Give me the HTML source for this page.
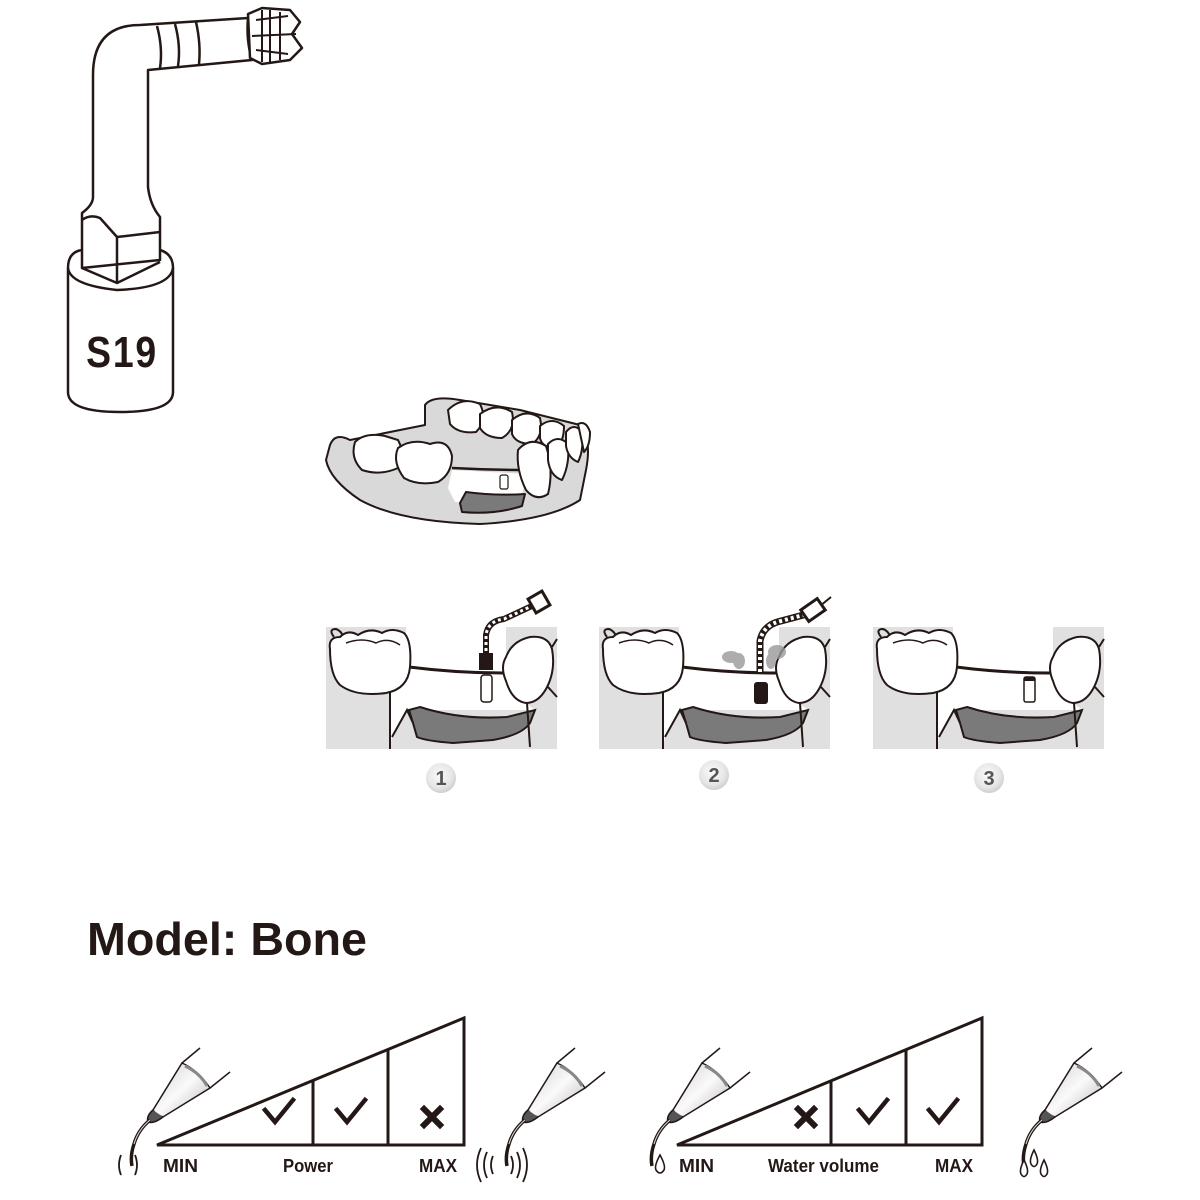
<!DOCTYPE html>
<html><head><meta charset="utf-8"><style>
html,body{margin:0;padding:0;background:#fff;}
svg{display:block;}
.lbl{font-family:"Liberation Sans",sans-serif;font-weight:bold;fill:#231815;}
</style></head><body>
<svg width="1200" height="1200" viewBox="0 0 1200 1200" xmlns="http://www.w3.org/2000/svg">
<defs>
<radialGradient id="nb" cx="0.45" cy="0.4" r="0.6">
<stop offset="0" stop-color="#fbfbfb"/><stop offset="0.7" stop-color="#e6e6e6"/><stop offset="1" stop-color="#cfcfcf"/>
</radialGradient>
<linearGradient id="cone" x1="0" y1="0" x2="1" y2="1">
<stop offset="0" stop-color="#cfcfcf"/><stop offset="0.5" stop-color="#fafafa"/><stop offset="1" stop-color="#b5b5b5"/>
</linearGradient>
<g id="panelbase">
<rect x="0" y="0" width="231" height="122" fill="#e0e0e0"/>
<polygon points="80,0 180,0 180,46 80,40" fill="#fff"/>
<polygon points="64,45 83,40 177,46 200,76 209,83 87,83 81,83 66,110 64,122" fill="#fff"/>
<path d="M83,83 L94,80 Q134,93 181,90 L209,83 L204,96 Q196,108 167,113 L127,116 Q100,114 91,110 L87,96 Z" fill="#7a7a7a" stroke="#231815" stroke-width="2"/>
<path d="M64,64 L64,122 M66,110 L81,83 L87,96" fill="none" stroke="#231815" stroke-width="2"/>
<path d="M83,40 Q130,46 177,46" fill="none" stroke="#231815" stroke-width="3"/>
<path d="M8,10 Q2,2 10,2 Q16,4 18,12" fill="none" stroke="#231815" stroke-width="2"/>
<path d="M4,22 Q2,10 14,10 Q22,2 32,8 Q44,0 56,6 Q66,0 78,6 Q86,14 84,40 Q82,62 60,66 Q30,70 14,58 Q4,48 4,22 Z" fill="#fff" stroke="#231815" stroke-width="2"/>
<path d="M20,16 Q36,10 50,16 Q62,10 74,18" fill="none" stroke="#231815" stroke-width="1.5"/>
<path d="M180,30 Q186,14 204,10 Q222,8 226,22 Q230,44 220,62 Q212,76 200,76 Q186,74 180,54 Q174,40 180,30 Z" fill="#fff" stroke="#231815" stroke-width="2"/>
<path d="M201,76 L204,120 M226,20 L231,12 M222,60 L231,70" fill="none" stroke="#231815" stroke-width="2"/>
</g>
<g id="hp">
<path d="M-18,3 L0,-12 M10,28 L30,12" stroke="#231815" stroke-width="1.5" fill="none"/>
<path d="M-18,3 Q-2,10 10,28 L-37,57 Q-44,55 -47,50 Z" fill="url(#cone)" stroke="#231815" stroke-width="1.5"/>
<path d="M-15,6 Q0,13 7,26" stroke="#888" stroke-width="3" fill="none"/>
<path d="M-47,50 Q-54,56 -52,62 Q-46,64 -37,57" fill="#555" stroke="#231815" stroke-width="1.5"/>
<path d="M-50,60 Q-62,70 -66,84 Q-70,96 -68,106" fill="none" stroke="#231815" stroke-width="3.5"/>
<path d="M-50,60 Q-62,70 -66,84" fill="none" stroke="#ddd" stroke-width="1"/>
</g>
</defs>

<!-- S19 tip -->
<g stroke="#231815" stroke-width="2.5" fill="#fff" stroke-linejoin="round">
<path d="M93,197 L93,75 Q93,25 140,25 L248,18 L252,60 L148,70 L148,187 Q150,205 160,217 L160,260 L82,268 L82,213 Q93,205 93,197 Z"/>
<path d="M82,220 Q90,214 100,218 L117,237 L160,232 M117,237 L117,283 M82,268 L117,283 L160,262" fill="none"/>
<path d="M68,268 Q68,252 82,250 M160,250 Q173,254 173,268 L173,392 Q173,412 120,412 Q68,412 68,392 L68,268" fill="none"/>
<path d="M68,268 Q70,285 117,290 Q170,288 173,268" fill="none"/>
<path d="M157,26 Q163,48 160,68 M175,24 Q181,46 178,66 M196,22 Q201,44 199,64" fill="none"/>
<path d="M248,18 Q246,40 252,60" fill="none"/>
<path d="M248,14 L262,8 L290,10 L300,22 L292,34 L302,48 L290,60 L262,64 L250,58 Z" fill="#fff"/>
<path d="M252,36 L296,34 M256,20 L288,16 M256,50 L288,54 M262,10 L262,62 M270,10 L270,62 M280,12 L280,60" fill="none" stroke-width="2"/>
</g>
<text x="122" y="367" text-anchor="middle" class="lbl" font-size="44" transform="translate(122 0) scale(0.85 1) translate(-122 0)" letter-spacing="2">S19</text>

<!-- jaw -->
<g stroke="#231815" stroke-width="2" stroke-linejoin="round">
<path d="M330,445 Q335,432 350,440 L425,425 L425,405 Q432,395 460,400 L520,410 L580,425 Q592,440 586,470 L580,500 Q550,520 480,524 Q400,522 360,500 Q330,480 326,460 Z" fill="#d9d9d9"/>
<path d="M452,470 L528,474 L520,500 L502,506 L455,502 L448,488 Z" fill="#fff" stroke="none"/>
<path d="M460,503 L466,492 Q495,496 525,494 L522,506 Q495,515 462,512 Z" fill="#7a7a7a"/>
<path d="M452,468 Q490,470 530,470" fill="none" stroke-width="2.5"/>
<rect x="500" y="475" width="8" height="14" rx="2" fill="#fff" stroke-width="1.2"/>
<g fill="#fff">
<path d="M355,442 Q365,432 385,436 L398,440 Q406,455 398,468 Q380,476 362,470 Q350,458 355,442 Z"/>
<path d="M398,448 Q412,438 430,444 Q448,438 452,456 Q452,474 438,482 Q418,486 404,478 Q392,462 398,448 Z"/>
<path d="M448,410 Q462,396 480,404 Q488,420 476,432 Q458,434 450,424 Z"/>
<path d="M480,414 Q496,402 512,412 Q516,430 502,438 Q486,438 480,428 Z"/>
<path d="M512,420 Q526,408 540,418 Q544,436 532,444 Q516,444 512,434 Z"/>
<path d="M540,426 Q552,416 564,426 Q564,442 556,448 Q542,448 540,438 Z"/>
<path d="M518,450 Q530,436 546,446 Q554,470 548,494 Q536,502 526,490 Q516,470 518,450 Z"/>
<path d="M548,444 Q558,434 568,444 Q570,464 562,480 Q550,476 548,460 Z"/>
<path d="M566,432 Q574,422 582,432 Q584,450 578,462 Q568,458 566,446 Z"/>
<path d="M578,424 Q586,420 590,432 Q590,446 584,452 Z"/>
</g>
</g>

<!-- panels -->
<g transform="translate(326 627)">
<use href="#panelbase"/>
<path d="M160,30 L160,8 Q162,-6 178,-8 L208,-22" fill="none" stroke="#231815" stroke-width="6"/>
<path d="M160,30 L160,8 Q162,-6 178,-8 L208,-22" fill="none" stroke="#fff" stroke-width="3" stroke-dasharray="3 3"/>
<rect x="205" y="-33" width="16" height="16" transform="rotate(-30 213 -25)" fill="#fff" stroke="#231815" stroke-width="3"/>
<rect x="153" y="26" width="14" height="17" fill="#231815"/>
<rect x="155" y="48" width="11" height="27" rx="3" fill="#fff" stroke="#231815" stroke-width="1.5"/>
</g>
<g transform="translate(599 627)">
<use href="#panelbase"/>
<g fill="#999" opacity="0.8"><ellipse cx="132" cy="30" rx="9" ry="6"/><ellipse cx="140" cy="34" rx="6" ry="8"/><ellipse cx="178" cy="25" rx="9" ry="7"/><ellipse cx="172" cy="34" rx="5" ry="8"/></g>
<path d="M161,45 L161,14 Q164,-2 182,-6 L212,-14" fill="none" stroke="#231815" stroke-width="7"/>
<path d="M161,45 L161,14 Q164,-2 182,-6 L212,-14" fill="none" stroke="#fff" stroke-width="4" stroke-dasharray="3 3"/>
<path d="M210,-12 L232,-30" stroke="#231815" stroke-width="2"/>
<rect x="204" y="-24" width="20" height="14" transform="rotate(-35 214 -17)" fill="#fff" stroke="#231815" stroke-width="3"/>
<rect x="155" y="55" width="14" height="22" rx="3" fill="#231815"/>
</g>
<g transform="translate(873 627)">
<use href="#panelbase"/>
<rect x="151" y="50" width="11" height="25" rx="2" fill="#fff" stroke="#231815" stroke-width="1.5"/>
<rect x="151" y="50" width="11" height="4" fill="#231815"/>
</g>

<!-- numbers -->
<g font-family="Liberation Sans,sans-serif" font-weight="bold" font-size="20" fill="#555" text-anchor="middle">
<circle cx="441" cy="778" r="15" fill="url(#nb)"/><text x="441" y="785">1</text>
<circle cx="714" cy="775" r="15" fill="url(#nb)"/><text x="714" y="782">2</text>
<circle cx="989" cy="778" r="15" fill="url(#nb)"/><text x="989" y="785">3</text>
</g>

<text x="87" y="955" class="lbl" font-size="46" textLength="280" lengthAdjust="spacingAndGlyphs">Model: Bone</text>

<!-- chart 1 -->
<g stroke="#231815" stroke-width="3" fill="none">
<path d="M157,1145 L464,1018 L464,1145 Z"/>
<path d="M313,1081 L313,1145 M388,1050 L388,1145"/>
</g>
<g stroke="#231815" stroke-width="4.5" fill="none" stroke-linecap="square">
<path d="M265,1110 L275,1122 L293,1100"/><path d="M337,1110 L347,1122 L365,1100"/>
<path d="M424,1109 L440,1125 M440,1109 L424,1125" stroke-width="6"/>
</g>
<use href="#hp" transform="translate(200 1060)"/>
<use href="#hp" transform="translate(575 1060)"/>
<g fill="none" stroke="#231815" stroke-width="1.8">
<path d="M121,1155 Q117,1165 121,1175 M135,1155 Q139,1165 135,1175"/>
<path d="M487,1152 Q481,1165 487,1178 M481,1148 Q473,1165 481,1182 M493,1156 Q489,1165 493,1174 M517,1152 Q523,1165 517,1178 M523,1148 Q531,1165 523,1182 M511,1156 Q515,1165 511,1174"/>
</g>
<text x="163" y="1172" class="lbl" font-size="18" textLength="35" lengthAdjust="spacingAndGlyphs">MIN</text>
<text x="283" y="1172" class="lbl" font-size="18" textLength="50" lengthAdjust="spacingAndGlyphs">Power</text>
<text x="419" y="1172" class="lbl" font-size="18" textLength="38" lengthAdjust="spacingAndGlyphs">MAX</text>

<!-- chart 2 -->
<g stroke="#231815" stroke-width="3" fill="none">
<path d="M677,1145 L982,1018 L982,1145 Z"/>
<path d="M831,1081 L831,1145 M906,1050 L906,1145"/>
</g>
<g stroke="#231815" stroke-width="4.5" fill="none" stroke-linecap="square">
<path d="M798,1109 L814,1125 M814,1109 L798,1125" stroke-width="6"/>
<path d="M859,1110 L869,1122 L887,1100"/><path d="M929,1110 L939,1122 L957,1100"/>
</g>
<use href="#hp" transform="translate(720 1060)"/>
<use href="#hp" transform="translate(1092 1060)"/>
<g fill="#fff" stroke="#231815" stroke-width="1.6">
<path d="M660,1155 Q654,1166 656,1170 Q660,1176 664,1170 Q666,1166 660,1155 Z"/>
<path d="M1024,1160 Q1019,1170 1021,1174 Q1024,1179 1027,1174 Q1029,1170 1024,1160 Z"/>
<path d="M1034,1150 Q1029,1160 1031,1164 Q1034,1169 1037,1164 Q1039,1160 1034,1150 Z"/>
<path d="M1044,1160 Q1039,1170 1041,1174 Q1044,1179 1047,1174 Q1049,1170 1044,1160 Z"/>
</g>
<text x="679" y="1172" class="lbl" font-size="18" textLength="35" lengthAdjust="spacingAndGlyphs">MIN</text>
<text x="768" y="1172" class="lbl" font-size="18" textLength="111" lengthAdjust="spacingAndGlyphs">Water volume</text>
<text x="935" y="1172" class="lbl" font-size="18" textLength="38" lengthAdjust="spacingAndGlyphs">MAX</text>
</svg>
</body></html>
